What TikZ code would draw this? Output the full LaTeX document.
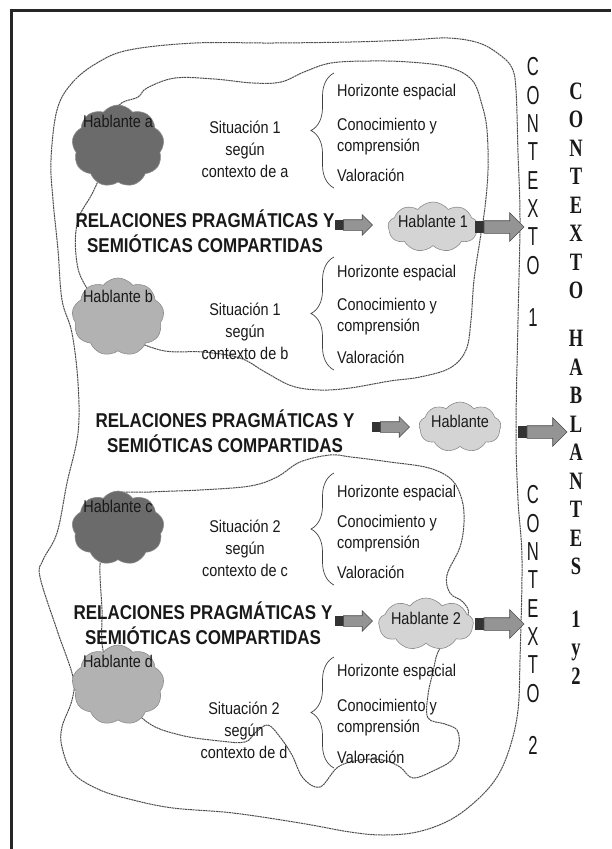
\documentclass[tikz,border=0pt]{standalone}
\usepackage{fontspec}
\setmainfont{Liberation Sans}[FakeStretch=0.85]
\newfontfamily\narrowsans{Liberation Sans}[FakeStretch=0.64]
\newfontfamily\narrowserif{Liberation Serif}[FakeStretch=0.74]
\usetikzlibrary{positioning,shapes.symbols,shapes.arrows,decorations.pathreplacing}

\begin{document}
\begin{tikzpicture}[
        x=1pt, y=-1pt, % coordenadas en pixeles
        frontier/.style = {draw=black!70, line width=1pt, dash pattern=on 2pt off 0.6pt},
        speaker/.style = {cloud, cloud puffs=9, cloud puff arc=105, draw=black!45, line width=0.6pt, inner sep=0pt},
        darkcloud/.style = {speaker, fill=black!58},
        palecloud/.style = {speaker, fill=black!30},
        softcloud/.style = {speaker, fill=black!17},
        words/.style = {font=\fontsize{17}{21}\selectfont, text=black!90, inner sep=0pt},
        sit/.style = {words, align=center, font=\fontsize{17}{22}\selectfont},
        facet/.style = {words, anchor=west, align=left},
        rel/.style = {font=\bfseries\fontsize{20}{25}\selectfont, text=black!90, align=center, inner sep=0pt},
        curly/.style = {decorate, decoration={brace, amplitude=23pt}, draw=black!75, line width=0.7pt},
        tailbox/.style = {rectangle, fill=black!80, inner sep=0pt, minimum width=8pt, minimum height=10pt},
        bigtail/.style = {tailbox, minimum width=9pt, minimum height=12pt},
        flow/.style = {single arrow, fill=black!42, draw=black!70, line width=0.6pt, inner xsep=0pt, inner ysep=5pt, single arrow head extend=5pt, minimum height=29pt},
        bigflow/.style = {flow, inner ysep=6pt, single arrow head extend=8pt, minimum height=40pt},
        ctxcol/.style = {font=\narrowsans\fontsize{26}{28.3}\selectfont, align=center, inner sep=0pt, text=black!90},
        allcol/.style = {font=\narrowserif\bfseries\fontsize{25}{28.5}\selectfont, align=center, inner sep=0pt, text=black!90},
    ]
    \useasboundingbox (0,0) rectangle (611,849);
    \draw[line width=3pt, black!85] (611,10) -- (11,10) -- (11,849);

    % fronteras punteadas
    \draw[frontier] plot[smooth cycle, tension=0.6] coordinates {
        (57,110) (72,83) (97,63) (129,50) (195,43) (273,43) (351,42) (409,40) (448,38)
        (479,43) (500,55) (512,68) (516,90) (518,153) (520,220) (518,320) (516,430)
        (518,500) (522,560) (520,660) (518,710) (510,747) (497,777) (477,800) (450,820)
        (417,832) (383,835) (350,832) (300,823) (233,813) (173,808) (133,800) (100,790)
        (73,773) (62,747) (62,727) (72,700) (73,677) (57,630) (40,577) (43,560) (57,533)
        (67,483) (78,433) (78,383) (72,333) (62,300) (58,250) (53,200) (51,160)};
    \draw[frontier] plot[smooth cycle, tension=0.6] coordinates {
        (117,108) (138,97) (147,88) (175,78) (214,79) (253,83) (281,82) (304,72) (331,63)
        (370,61) (409,62) (448,67) (472,80) (482,105) (487,130) (488,170) (485,207)
        (480,240) (474,280) (471,320) (466,350) (450,368) (420,377) (390,381) (350,388)
        (320,390) (292,386) (265,372) (240,358) (203,352) (160,350) (120,330) (85,285)
        (76,255) (78,220) (94,190) (110,150)};
    \draw[frontier] plot[smooth cycle, tension=0.6] coordinates {
        (113,495) (150,492) (200,490) (250,486) (277,477) (300,462) (330,455) (351,457)
        (390,462) (429,468) (452,480) (462,500) (464,522) (460,547) (447,575) (450,593)
        (463,602) (468,615) (450,635) (438,652) (433,672) (428,695) (428,718) (445,724)
        (457,730) (459,745) (452,760) (435,770) (413,778) (400,767) (383,760) (360,760)
        (338,767) (320,787) (303,778) (292,755) (280,737) (268,725) (256,732) (245,742)
        (220,741) (180,735) (147,722) (118,690) (103,650) (102,610) (100,565) (105,520)};

    % hablantes
    \node[darkcloud, minimum width=92pt, minimum height=82pt] (ca) at (118,146) {};
    \node[words, below=10pt of ca.north] (la) {Hablante a};
    \node[palecloud, minimum width=92pt, minimum height=78pt] (cb) at (118,317) {};
    \node[words, below=12pt of cb.north] (lb) {Hablante b};
    \node[darkcloud, minimum width=92pt, minimum height=74pt] (cc) at (118,528) {};
    \node[words, below=9pt of cc.north] (lc) {Hablante c};
    \node[palecloud, minimum width=92pt, minimum height=80pt] (cd) at (118,685) {};
    \node[words, below=10pt of cd.north] (ld) {Hablante d};

    \node[softcloud, minimum width=90pt, minimum height=50pt] (h1) at (433,227) {};
    \node[words] (l1) at ([yshift=6pt]h1.center) {Hablante 1};
    \node[softcloud, minimum width=82pt, minimum height=50pt] (hm) at (460,427) {};
    \node[words] (lm) at ([yshift=6pt]hm.center) {Hablante};
    \node[softcloud, minimum width=95pt, minimum height=52pt] (h2) at (426,624) {};
    \node[words] (l2) at ([yshift=6pt]h2.center) {Hablante 2};

    % situaciones
    \node[sit] (sa) at (245,149) {Situación 1\\según\\contexto de a};
    \node[sit] (sb) at (245,331) {Situación 1\\según\\contexto de b};
    \node[sit] (sc) at (245,548) {Situación 2\\según\\contexto de c};
    \node[sit] (sd) at (244,730) {Situación 2\\según\\contexto de d};

    \draw[curly] (334,188) -- (334,73);
    \draw[curly] (334,370) -- (334,257);
    \draw[curly] (334,585) -- (334,473);
    \draw[curly] (334,768) -- (334,657);

    \node[facet] (ha) at (337,92) {Horizonte espacial};
    \node[facet] (ka) at (337,136.5) {Conocimiento y\\comprensión};
    \node[facet] (va) at (337,175) {Valoración};
    \node[facet] (hb) at (337,273) {Horizonte espacial};
    \node[facet] (kb) at (337,316.5) {Conocimiento y\\comprensión};
    \node[facet] (vb) at (337,357) {Valoración};
    \node[facet] (hc) at (337,493) {Horizonte espacial};
    \node[facet] (kc) at (337,534) {Conocimiento y\\comprensión};
    \node[facet] (vc) at (337,572) {Valoración};
    \node[facet] (hd) at (337,672) {Horizonte espacial};
    \node[facet] (kd) at (337,717.5) {Conocimiento y\\comprensión};
    \node[facet] (vd) at (337,757) {Valoración};

    % relaciones y flechas
    \node[rel] (r1) at (205,231) {RELACIONES PRAGMÁTICAS Y\\SEMIÓTICAS COMPARTIDAS};
    \node[rel] (r2) at (225,431) {RELACIONES PRAGMÁTICAS Y\\SEMIÓTICAS COMPARTIDAS};
    \node[rel] (r3) at (203,623) {RELACIONES PRAGMÁTICAS Y\\SEMIÓTICAS COMPARTIDAS};

    \node[tailbox] (t1) at (339,225) {};
    \node[flow, right=0pt of t1] (f1) {};
    \node[bigtail] (u1) at (479,227) {};
    \node[bigflow, right=0pt of u1] (g1) {};
    \node[tailbox] (t2) at (376,427) {};
    \node[flow, right=0pt of t2] (f2) {};
    \node[bigtail] (u2) at (522,432) {};
    \node[bigflow, right=0pt of u2] (g2) {};
    \node[tailbox] (t3) at (339,621) {};
    \node[flow, right=0pt of t3] (f3) {};
    \node[bigtail] (u3) at (479,624) {};
    \node[bigflow, right=0pt of u3] (g3) {};

    % contextos
    \node[ctxcol] (c1) at (533,166) {C\\O\\N\\T\\E\\X\\T\\O};
    \node[ctxcol] (n1) at (533,318) {1};
    \node[ctxcol] (c2) at (533,594) {C\\O\\N\\T\\E\\X\\T\\O};
    \node[ctxcol] (n2) at (533,745) {2};
    \node[allcol] (w1) at (576,191) {C\\O\\N\\T\\E\\X\\T\\O};
    \node[allcol] (w2) at (576,452.5) {H\\A\\B\\L\\A\\N\\T\\E\\S};
    \node[allcol] (w3) at (576,647.5) {1\\y\\2};

\end{tikzpicture}
\end{document}
